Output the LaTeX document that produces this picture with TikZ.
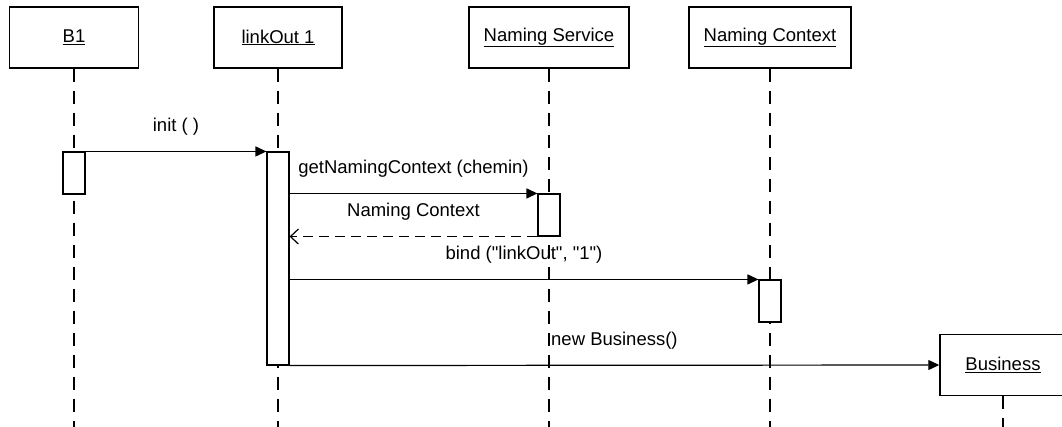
\documentclass[tikz,border=0pt]{standalone}
\usepackage{fontspec}
\setmainfont{Liberation Sans}
\newfontfamily\diagramfont{Liberation Sans}
\usetikzlibrary{arrows.meta, positioning}

\begin{document}
\begin{tikzpicture}[x=1pt, y=-1pt,
    every node/.style={font=\diagramfont\fontsize{18.5}{22}\selectfont},
    object/.style={draw, line width=1.4pt, fill=white, minimum height=61pt, inner sep=0pt},
    activation/.style={draw, line width=1.1pt, fill=white, minimum width=22pt, inner sep=0pt},
    lifeline/.style={line width=1.2pt, dash pattern=on 13pt off 9pt},
    call/.style={line width=1.2pt, -{Triangle[length=11pt, width=10pt]}},
    reply/.style={line width=1.2pt, dash pattern=on 10pt off 6pt, -{Straight Barb[length=8pt, width=15pt]}},
    msglabel/.style={anchor=base, yshift=20pt, inner sep=0pt}]
    \clip (0,0) rectangle (1062,427);
    \coordinate (bottom) at (0,427);

    % objects
    \node (b1) [object, minimum width=129pt] at (74,37.5) {\underline{B1}};
    \node (linkout) [object, minimum width=128pt] at (278,37.5) {\underline{linkOut 1}};
    \node (namingservice) [object, minimum width=160pt] at (549,37.5) {\underline{Naming Service}};
    \node (namingcontext) [object, minimum width=162pt] at (770,37.5) {\underline{Naming Context}};
    \node (business) [object, minimum width=126pt] at (1003,365) {\underline{Business}};

    \foreach \obj in {b1,linkout,namingservice,namingcontext,business}
        \draw[lifeline] (\obj.south) -- (\obj.south |- bottom);

    % activations
    \node (actb1) [activation, minimum height=42pt] at (74,173) {};
    \node (actlink) [activation, minimum height=213pt] at (278,258.5) {};
    \node (actns) [activation, minimum height=42pt] at (549,215) {};
    \node (actnc) [activation, minimum height=42pt] at (770,301) {};

    % messages
    \draw[call] (actb1.north east) -- node[msglabel] (lblinit) {init ( )} (actlink.north west);
    \draw[call] (actlink.east |- actns.north) -- node[msglabel] (lblget) {getNamingContext (chemin)} (actns.north west);
    \draw[reply] (actns.south west) -- node[msglabel] (lblreply) {Naming Context} (actlink.east |- actns.south);
    \draw[call] (actlink.east |- actnc.north) -- node[msglabel] (lblbind) {bind ("linkOut", "1")} (actnc.north west);
    \draw[call] (actlink.south east) -- node[msglabel] (lblnew) {new Business()} (business.west);
\end{tikzpicture}
\end{document}
